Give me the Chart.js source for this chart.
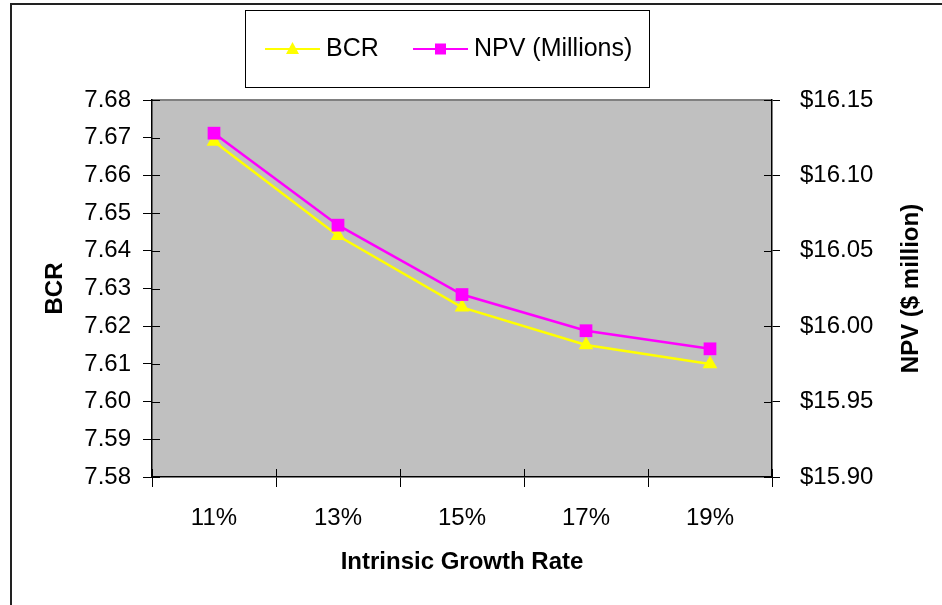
<!DOCTYPE html>
<html>
<head>
<meta charset="utf-8">
<script src="https://cdn.jsdelivr.net/npm/chart.js@4.4.0/dist/chart.umd.min.js"></script>
<style>
    body { margin: 0; background: #fff; }
    canvas { display: block; }
</style>
</head>
<body>
<canvas id="growthChart" width="942" height="605"></canvas>
<script>
const growthRates = ['11%', '13%', '15%', '17%', '19%'];
const bcrValues = [7.669, 7.644, 7.625, 7.615, 7.610];
const npvValues = [16.128, 16.067, 16.021, 15.997, 15.985];

const FONT = '"Liberation Sans", Arial, sans-serif';

// gray plot background, outer frame and the small ticks that cross into the plot
const chartFrame = {
    id: 'chartFrame',
    beforeDraw(chart) {
        const ctx = chart.ctx;
        const a = chart.chartArea;
        ctx.save();
        ctx.fillStyle = '#fff';
        ctx.fillRect(0, 0, chart.width, chart.height);
        ctx.fillStyle = '#c0c0c0';
        ctx.fillRect(a.left, a.top, a.right - a.left, a.bottom - a.top);
        ctx.strokeStyle = '#808080';
        ctx.lineWidth = 2;
        ctx.beginPath();
        ctx.moveTo(a.left, a.top);
        ctx.lineTo(a.right, a.top);
        ctx.stroke();
        ctx.strokeStyle = '#222';
        ctx.lineWidth = 2;
        ctx.beginPath();
        ctx.moveTo(11, chart.height);
        ctx.lineTo(11, 4);
        ctx.lineTo(chart.width, 4);
        ctx.stroke();
        ctx.restore();
    },
    afterDraw(chart) {
        const ctx = chart.ctx;
        const a = chart.chartArea;
        const y = chart.scales.y, y2 = chart.scales.y2, x = chart.scales.x;
        ctx.save();
        ctx.strokeStyle = '#000';
        ctx.lineWidth = 1;
        ctx.beginPath();
        y.ticks.forEach((t, i) => {
            const py = Math.round(y.getPixelForTick(i)) + 0.5;
            ctx.moveTo(a.left, py); ctx.lineTo(a.left + 8, py);
        });
        y2.ticks.forEach((t, i) => {
            const py = Math.round(y2.getPixelForTick(i)) + 0.5;
            ctx.moveTo(a.right - 8, py); ctx.lineTo(a.right, py);
        });
        const half = (x.getPixelForValue(1) - x.getPixelForValue(0)) / 2;
        for (let i = 0; i <= growthRates.length; i++) {
            const px = Math.round(x.getPixelForValue(i) - half) + 0.5;
            ctx.moveTo(px, a.bottom - 8); ctx.lineTo(px, a.bottom);
        }
        ctx.stroke();

        // right axis title, reading bottom to top
        ctx.fillStyle = '#000';
        ctx.font = 'bold 24px ' + FONT;
        ctx.textAlign = 'center';
        ctx.textBaseline = 'middle';
        ctx.translate(911, (a.top + a.bottom) / 2);
        ctx.rotate(-Math.PI / 2);
        ctx.fillText('NPV ($ million)', 0, 0);
        ctx.restore();
    }
};

// boxed legend with line + marker samples
const boxLegend = {
    id: 'boxLegend',
    afterDraw(chart) {
        const ctx = chart.ctx;
        ctx.save();
        ctx.fillStyle = '#fff';
        ctx.fillRect(245, 10, 404, 77);
        ctx.strokeStyle = '#000';
        ctx.lineWidth = 1;
        ctx.strokeRect(245.5, 10.5, 404, 77);
        const items = [
            { ds: chart.data.datasets[1], x: 265 },
            { ds: chart.data.datasets[0], x: 413 }
        ];
        const cy = 49;
        items.forEach(it => {
            ctx.strokeStyle = it.ds.borderColor;
            ctx.lineWidth = 2;
            ctx.beginPath();
            ctx.moveTo(it.x, cy); ctx.lineTo(it.x + 55, cy);
            ctx.stroke();
            ctx.fillStyle = it.ds.borderColor;
            const mx = it.x + 27.5;
            if (it.ds.pointStyle === 'triangle') {
                ctx.beginPath();
                ctx.moveTo(mx, cy - 7);
                ctx.lineTo(mx + 6.5, cy + 5);
                ctx.lineTo(mx - 6.5, cy + 5);
                ctx.closePath();
                ctx.fill();
            } else {
                ctx.fillRect(mx - 5.5, cy - 5.5, 11, 11);
            }
            ctx.fillStyle = '#000';
            ctx.font = '25px ' + FONT;
            ctx.textAlign = 'left';
            ctx.textBaseline = 'middle';
            ctx.fillText(it.ds.label, it.x + 61, cy);
        });
        ctx.restore();
    }
};

new Chart(document.getElementById('growthChart'), {
    type: 'line',
    data: {
        labels: growthRates,
        datasets: [
            {
                label: 'NPV (Millions)',
                data: npvValues,
                yAxisID: 'y2',
                borderColor: '#ff00ff',
                backgroundColor: '#ff00ff',
                borderWidth: 2.5,
                pointStyle: 'rect',
                pointRadius: 9,
                pointBorderWidth: 0,
                tension: 0,
                order: 0
            },
            {
                label: 'BCR',
                data: bcrValues,
                yAxisID: 'y',
                borderColor: '#ffff00',
                backgroundColor: '#ffff00',
                borderWidth: 2.5,
                pointStyle: 'triangle',
                pointRadius: 8.5,
                pointBorderWidth: 0,
                tension: 0,
                order: 1
            }
        ]
    },
    options: {
        responsive: false,
        animation: false,
        layout: { padding: { top: 100, left: 0, right: 0, bottom: 0 } },
        plugins: {
            legend: { display: false },
            tooltip: { enabled: false }
        },
        scales: {
            x: {
                offset: true,
                grid: { offset: true, drawOnChartArea: false, drawTicks: true, tickLength: 10, color: '#000' },
                border: { display: true, color: '#000', width: 1.5 },
                ticks: { color: '#000', font: { family: FONT, size: 24 }, padding: 17, maxRotation: 0 },
                title: { display: true, text: 'Intrinsic Growth Rate', color: '#000', font: { family: FONT, size: 24, weight: 'bold' }, padding: { top: 0, bottom: 28 } },
                afterFit(scale) { scale.height = 128; }
            },
            y: {
                position: 'left',
                min: 7.58,
                max: 7.68,
                grid: { drawOnChartArea: false, drawTicks: true, tickLength: 9, color: '#000' },
                border: { display: true, color: '#000', width: 1.5 },
                ticks: {
                    stepSize: 0.01,
                    color: '#000',
                    font: { family: FONT, size: 24 },
                    padding: 12,
                    callback: v => v.toFixed(2)
                },
                title: { display: true, text: 'BCR', color: '#000', font: { family: FONT, size: 24, weight: 'bold' }, padding: { top: 41, bottom: 0 } },
                afterFit(scale) { scale.width = 152; }
            },
            y2: {
                position: 'right',
                min: 15.90,
                max: 16.15,
                grid: { drawOnChartArea: false, drawTicks: true, tickLength: 8, color: '#000' },
                border: { display: true, color: '#000', width: 1.5 },
                ticks: {
                    stepSize: 0.05,
                    color: '#000',
                    font: { family: FONT, size: 24 },
                    padding: 20,
                    callback: v => '$' + v.toFixed(2)
                },
                afterFit(scale) { scale.width = 170; }
            }
        }
    },
    plugins: [chartFrame, boxLegend]
});
</script>
</body>
</html>
